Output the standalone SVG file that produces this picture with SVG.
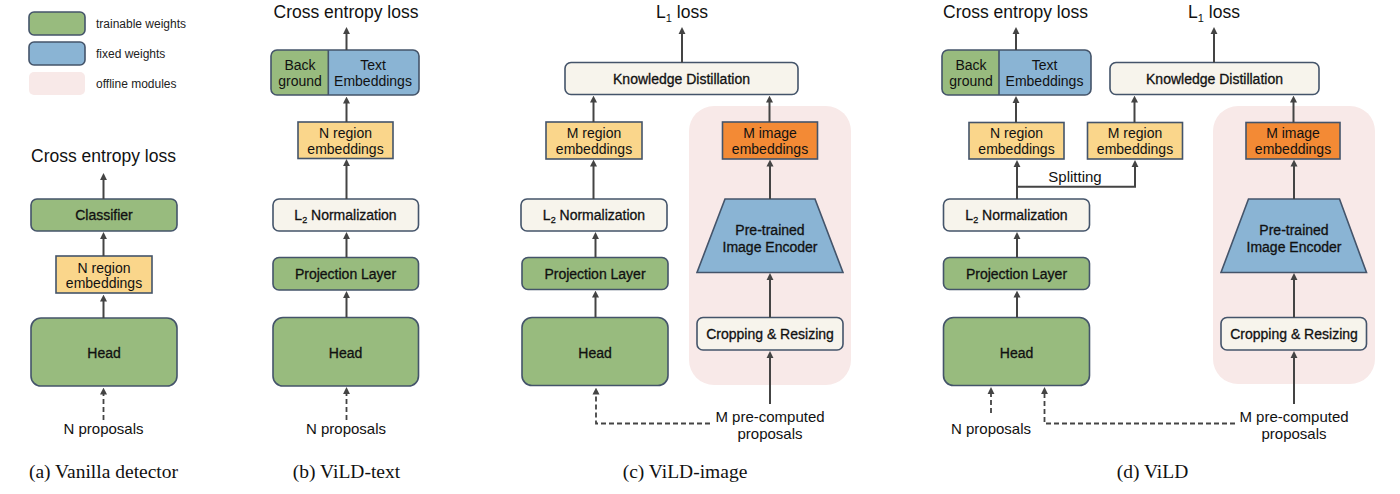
<svg xmlns="http://www.w3.org/2000/svg" width="1400" height="494" viewBox="0 0 1400 494">
<defs>
<marker id="ah" viewBox="0 0 10 10" refX="3" refY="5" markerWidth="7" markerHeight="8" markerUnits="userSpaceOnUse" orient="auto"><path d="M0,0 L10,5 L0,10 z" fill="#444"/></marker>
<style>
.g{fill:#98bb7e;stroke:#44546a;stroke-width:1.6}
.b{fill:#8ab4d4;stroke:#44546a;stroke-width:1.6}
.y{fill:#fad68b;stroke:#44546a;stroke-width:1.6}
.o{fill:#f38a35;stroke:#44546a;stroke-width:1.6}
.c{fill:#f7f4ec;stroke:#44546a;stroke-width:1.6}
.p{fill:#f8e9e8;stroke:none}
.nf{fill:none;stroke:#44546a;stroke-width:1.6}
.t{font-family:"Liberation Sans",Arial,sans-serif;font-size:14px;fill:#111;text-anchor:middle}
.tm{font-family:"Liberation Sans",Arial,sans-serif;font-size:14px;fill:#111;text-anchor:middle;stroke:#111;stroke-width:0.3}
.pr{font-family:"Liberation Sans",Arial,sans-serif;font-size:15px;fill:#111;text-anchor:middle}
.ti{font-family:"Liberation Sans",Arial,sans-serif;font-size:17.5px;fill:#111;text-anchor:middle}
.lg{font-family:"Liberation Sans",Arial,sans-serif;font-size:12px;fill:#222}
.cap{font-family:"Liberation Serif","Times New Roman",serif;font-size:19.5px;fill:#111;text-anchor:middle}
.a{stroke:#444;stroke-width:2;fill:none;marker-end:url(#ah)}
.d{stroke:#444;stroke-width:1.8;fill:none;stroke-dasharray:5,3;marker-end:url(#ah)}
.l{stroke:#444;stroke-width:2;fill:none}
</style>
</defs>

<g id="legend">
<rect class="g" x="29" y="12" width="56" height="23" rx="5"/>
<rect class="b" x="29" y="42" width="56" height="23" rx="5"/>
<rect class="p" x="29" y="72" width="56" height="23" rx="5"/>
<text class="lg" x="96" y="28">trainable weights</text>
<text class="lg" x="96" y="58">fixed weights</text>
<text class="lg" x="96" y="88">offline modules</text>
</g>

<!-- offline regions -->
<g id="offline-c"><rect class="p" x="689" y="106" width="162" height="279" rx="25"/></g>
<g id="offline-d"><rect class="p" x="1213" y="106" width="162" height="278" rx="25"/></g>

<!-- Panel a -->
<g id="a-title"><text class="ti" x="103.5" y="162">Cross entropy loss</text></g>
<g id="a-classifier"><rect class="g" x="31" y="199" width="146" height="32" rx="6"/><text class="tm" x="104" y="220">Classifier</text></g>
<g id="a-nregion"><rect class="y" x="56" y="256" width="96" height="37"/><text class="t" x="104" y="272.5">N region</text><text class="t" x="104" y="288">embeddings</text></g>
<g id="a-head"><rect class="g" x="31" y="318" width="146" height="68" rx="10"/><text class="tm" x="104" y="357.5">Head</text></g>
<g id="a-proposals"><text class="pr" x="103.5" y="434">N proposals</text></g>
<g id="a-caption"><text class="cap" x="103.5" y="478">(a) Vanilla detector</text></g>

<!-- Panel b -->
<g id="b-title"><text class="ti" x="346" y="18">Cross entropy loss</text></g>
<g id="b-cls">
<rect x="271" y="50" width="148" height="45" rx="6" fill="#8ab4d4"/>
<path d="M328.3,50 H277 A6,6 0 0 0 271,56 V89 A6,6 0 0 0 277,95 H328.3 Z" fill="#98bb7e"/>
<rect class="nf" x="271" y="50" width="148" height="45" rx="6"/>
<line x1="328.3" y1="50" x2="328.3" y2="95" stroke="#44546a" stroke-width="1.6"/>
<text class="t" x="300" y="70" font-size="14.5">Back</text><text class="t" x="300" y="86" font-size="14.5">ground</text>
<text class="t" x="373" y="70" font-size="14.5">Text</text><text class="t" x="373" y="86" font-size="14.5">Embeddings</text>
</g>
<g id="b-nregion"><rect class="y" x="298" y="122" width="95" height="36.5"/><text class="t" x="345.5" y="138">N region</text><text class="t" x="345.5" y="154">embeddings</text></g>
<g id="b-l2"><rect class="c" x="273" y="199" width="145.5" height="32" rx="6"/><text class="tm" x="345.5" y="220">L<tspan font-size="9" dy="3">2</tspan><tspan dy="-3"> Normalization</tspan></text></g>
<g id="b-proj"><rect class="g" x="273" y="257.5" width="145.5" height="32.5" rx="6"/><text class="tm" x="345.5" y="279">Projection Layer</text></g>
<g id="b-head"><rect class="g" x="273" y="317.5" width="145.5" height="68.5" rx="10"/><text class="tm" x="345.5" y="357.5">Head</text></g>
<g id="b-proposals"><text class="pr" x="346" y="434">N proposals</text></g>
<g id="b-caption"><text class="cap" x="346.5" y="478">(b) ViLD-text</text></g>

<!-- Panel c -->
<g id="c-title"><text class="ti" x="682" y="18">L<tspan font-size="11" dy="4">1</tspan><tspan dy="-4"> loss</tspan></text></g>
<g id="c-kd"><rect class="c" x="565" y="62.5" width="233" height="32" rx="6"/><text class="tm" x="681.5" y="84">Knowledge Distillation</text></g>
<g id="c-mregion"><rect class="y" x="546" y="122" width="96" height="37"/><text class="t" x="594" y="138">M region</text><text class="t" x="594" y="154">embeddings</text></g>
<g id="c-mimage"><rect class="o" x="722.5" y="122" width="95" height="37"/><text class="t" x="770" y="138">M image</text><text class="t" x="770" y="154">embeddings</text></g>
<g id="c-l2"><rect class="c" x="521" y="199" width="146" height="32" rx="6"/><text class="tm" x="594" y="220">L<tspan font-size="9" dy="3">2</tspan><tspan dy="-3"> Normalization</tspan></text></g>
<g id="c-proj"><rect class="g" x="522" y="257.5" width="146" height="32" rx="6"/><text class="tm" x="595" y="279">Projection Layer</text></g>
<g id="c-head"><rect class="g" x="522" y="317.5" width="146" height="68" rx="10"/><text class="tm" x="595" y="357.5">Head</text></g>
<g id="c-encoder"><polygon class="b" points="725,199 815,199 843,272.5 697,272.5"/><text class="tm" x="770" y="235">Pre-trained</text><text class="tm" x="770" y="252">Image Encoder</text></g>
<g id="c-crop"><rect class="c" x="697" y="317.5" width="146" height="32.5" rx="6"/><text class="tm" x="770" y="339">Cropping &amp; Resizing</text></g>
<g id="c-proposals"><text class="pr" x="770" y="421.5">M pre-computed</text><text class="pr" x="770" y="439">proposals</text></g>
<g id="c-caption"><text class="cap" x="685" y="478">(c) ViLD-image</text></g>

<!-- Panel d -->
<g id="d-title-ce"><text class="ti" x="1015.5" y="18">Cross entropy loss</text></g>
<g id="d-title-l1"><text class="ti" x="1214" y="18">L<tspan font-size="11" dy="4">1</tspan><tspan dy="-4"> loss</tspan></text></g>
<g id="d-cls">
<rect x="942" y="50" width="149" height="45" rx="6" fill="#8ab4d4"/>
<path d="M999,50 H948 A6,6 0 0 0 942,56 V89 A6,6 0 0 0 948,95 H999 Z" fill="#98bb7e"/>
<rect class="nf" x="942" y="50" width="149" height="45" rx="6"/>
<line x1="999" y1="50" x2="999" y2="95" stroke="#44546a" stroke-width="1.6"/>
<text class="t" x="971" y="70" font-size="14.5">Back</text><text class="t" x="971" y="86" font-size="14.5">ground</text>
<text class="t" x="1044.5" y="70" font-size="14.5">Text</text><text class="t" x="1044.5" y="86" font-size="14.5">Embeddings</text>
</g>
<g id="d-kd"><rect class="c" x="1110" y="62.5" width="209" height="32" rx="6"/><text class="tm" x="1214.5" y="84">Knowledge Distillation</text></g>
<g id="d-nregion"><rect class="y" x="969" y="122.5" width="95" height="36.5"/><text class="t" x="1016.5" y="138">N region</text><text class="t" x="1016.5" y="154">embeddings</text></g>
<g id="d-mregion"><rect class="y" x="1087.5" y="122.5" width="95" height="36.5"/><text class="t" x="1135" y="138">M region</text><text class="t" x="1135" y="154">embeddings</text></g>
<g id="d-mimage"><rect class="o" x="1246" y="122.5" width="94" height="36.5"/><text class="t" x="1293" y="138">M image</text><text class="t" x="1293" y="154">embeddings</text></g>
<g id="d-splitting"><text class="pr" x="1075" y="182">Splitting</text></g>
<g id="d-l2"><rect class="c" x="943.5" y="199" width="146" height="32" rx="6"/><text class="tm" x="1016.5" y="220">L<tspan font-size="9" dy="3">2</tspan><tspan dy="-3"> Normalization</tspan></text></g>
<g id="d-proj"><rect class="g" x="943.5" y="257.5" width="146" height="32" rx="6"/><text class="tm" x="1016.5" y="279">Projection Layer</text></g>
<g id="d-head"><rect class="g" x="943.5" y="317.5" width="146" height="68" rx="10"/><text class="tm" x="1016.5" y="357.5">Head</text></g>
<g id="d-encoder"><polygon class="b" points="1248.5,199 1339.5,199 1366.5,272.5 1221,272.5"/><text class="tm" x="1294" y="235">Pre-trained</text><text class="tm" x="1294" y="252">Image Encoder</text></g>
<g id="d-crop"><rect class="c" x="1221" y="317.5" width="145.5" height="32.5" rx="6"/><text class="tm" x="1294" y="339">Cropping &amp; Resizing</text></g>
<g id="d-nproposals"><text class="pr" x="991" y="433.5">N proposals</text></g>
<g id="d-mproposals"><text class="pr" x="1294" y="421.5">M pre-computed</text><text class="pr" x="1294" y="439">proposals</text></g>
<g id="d-caption"><text class="cap" x="1152.5" y="478">(d) ViLD</text></g>

<g id="connectors">
<!-- a -->
<line class="a" x1="103.5" y1="199" x2="103.5" y2="178"/>
<line class="a" x1="103.5" y1="256" x2="103.5" y2="237"/>
<line class="a" x1="103.5" y1="318" x2="103.5" y2="299.5"/>
<line class="d" x1="103.5" y1="420" x2="103.5" y2="392.5"/>
<!-- b -->
<line class="a" x1="346.5" y1="50" x2="346.5" y2="32"/>
<line class="a" x1="346.5" y1="122" x2="346.5" y2="101.5"/>
<line class="a" x1="346.5" y1="199" x2="346.5" y2="164"/>
<line class="a" x1="346.5" y1="257.5" x2="346.5" y2="237"/>
<line class="a" x1="346.5" y1="317.5" x2="346.5" y2="296"/>
<line class="d" x1="346.5" y1="420" x2="346.5" y2="392"/>
<!-- c -->
<line class="a" x1="682" y1="62.5" x2="682" y2="32"/>
<line class="a" x1="593.5" y1="122" x2="593.5" y2="100.5"/>
<line class="a" x1="769.5" y1="122" x2="769.5" y2="100.5"/>
<line class="a" x1="593.5" y1="199" x2="593.5" y2="164.5"/>
<line class="a" x1="770" y1="199" x2="770" y2="164.5"/>
<line class="a" x1="595.5" y1="257.5" x2="595.5" y2="237"/>
<line class="a" x1="595.5" y1="317.5" x2="595.5" y2="295.5"/>
<line class="a" x1="770" y1="317.5" x2="770" y2="278"/>
<line class="a" x1="770" y1="404" x2="770" y2="356"/>
<polyline class="d" points="710,423.5 596,423.5 596,392.5"/>
<!-- d -->
<line class="a" x1="1016" y1="50" x2="1016" y2="32"/>
<line class="a" x1="1214" y1="62.5" x2="1214" y2="32"/>
<line class="a" x1="1016" y1="122.5" x2="1016" y2="101"/>
<line class="a" x1="1134.5" y1="122.5" x2="1134.5" y2="100.5"/>
<line class="a" x1="1293.5" y1="122.5" x2="1293.5" y2="100.5"/>
<line class="a" x1="1017" y1="199" x2="1017" y2="165"/>
<polyline class="a" points="1017,186.7 1135,186.7 1135,165"/>
<line class="a" x1="1294" y1="199" x2="1294" y2="164.5"/>
<line class="a" x1="1017" y1="257.5" x2="1017" y2="237"/>
<line class="a" x1="1017" y1="317.5" x2="1017" y2="295.5"/>
<line class="a" x1="1294" y1="317.5" x2="1294" y2="278"/>
<line class="a" x1="1294" y1="404" x2="1294" y2="356"/>
<line class="d" x1="991" y1="413" x2="991" y2="392"/>
<polyline class="d" points="1235,423.5 1044.5,423.5 1044.5,392"/>
</g>
</svg>
